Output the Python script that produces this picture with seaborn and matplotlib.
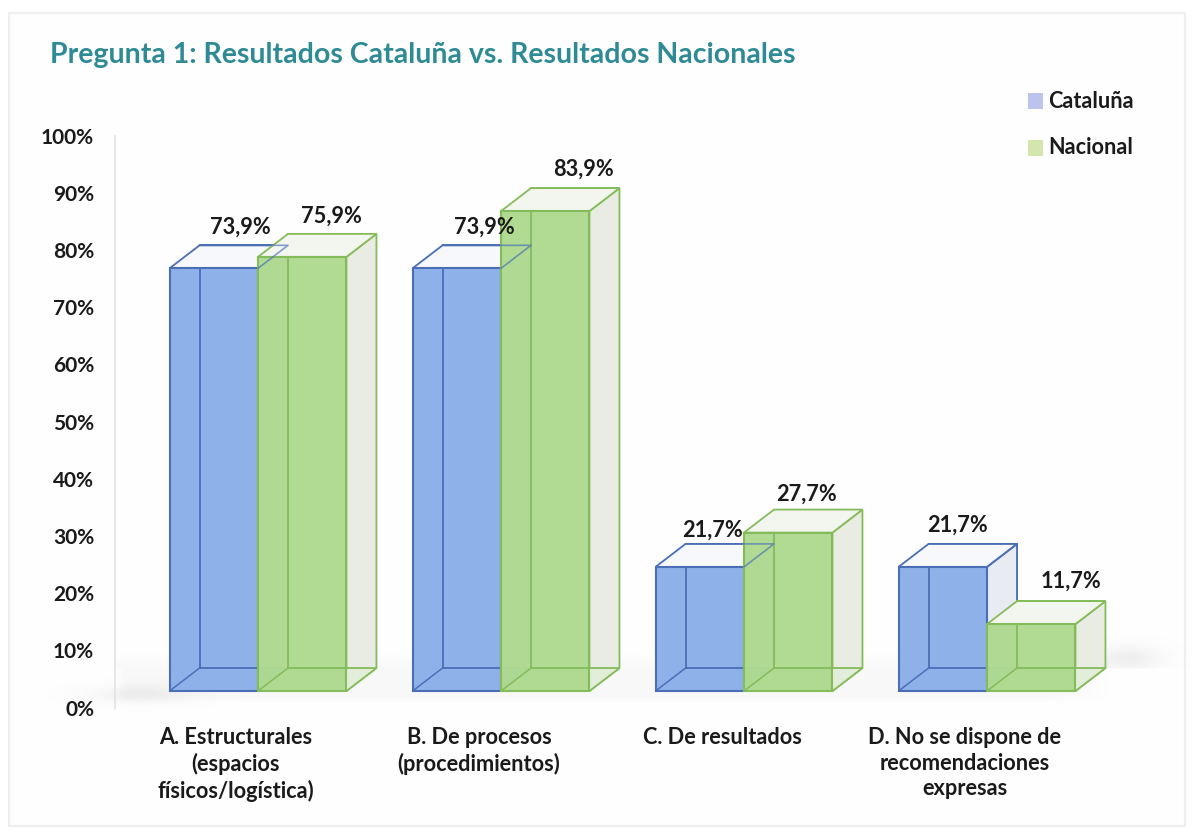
import numpy as np
import pandas as pd
import matplotlib
matplotlib.use("Agg")
import matplotlib.pyplot as plt
import matplotlib.patches as mp
from matplotlib.transforms import offset_copy, ScaledTranslation
import seaborn as sns

categories = ["A. Estructurales\n(espacios\nfísicos/logística)",
              "B. De procesos\n(procedimientos)",
              "C. De resultados",
              "D. No se dispone de\nrecomendaciones\nexpresas"]
cataluna = [73.9, 73.9, 21.7, 21.7]
nacional = [75.9, 83.9, 27.7, 11.7]
series_names = ["Cataluña", "Nacional"]
title = "Pregunta 1: Resultados Cataluña vs. Resultados Nacionales"

# label nudges from the bar centre / back top edge, in pixels
label_dx = [27, 28, 13, 15, 29, 38, 18, 40]
label_dy = [18, 18, 14, 19, 18, 19, 15, 20]

W, H = 1195, 836
BLUE_F, BLUE_E = "#8FB1E9", "#4A6FB8"
GREEN_F, GREEN_E = "#AFDA90", "#84BC5A"
FONT = "Lato"
TXT = "#1a1a1a"

sns.set_theme(style="white")
plt.rcParams["font.family"] = [FONT, "DejaVu Sans"]
fig = plt.figure(figsize=(W / 100, H / 100), dpi=100, facecolor="white")


def px_box(l, t, r, b):
    return [l / W, 1 - b / H, (r - l) / W, (b - t) / H]


# panel frame
bg = fig.add_axes([0, 0, 1, 1], zorder=0)
bg.set_xlim(0, W); bg.set_ylim(H, 0); bg.axis("off")
bg.add_patch(mp.Rectangle((9, 13), 1176, 813, fc="#FEFEFE", ec="#EFEFEF", lw=1.6))
# soft floor shadow
yy, xx = np.mgrid[0:H, 0:W].astype(float)
band = (yy >= 668) * np.clip((703 - yy) / 8, 0, 1) * np.clip((xx - 115) / 10, 0, 1) * np.clip((1110 - xx) / 60, 0, 1)
a = 0.08 * band
a += 0.16 * np.exp(-((xx - 140) / 50) ** 2 - ((yy - 694) / 9) ** 2)
a += 0.20 * np.exp(-((xx - 1128) / 32) ** 2 - ((yy - 658) / 13) ** 2) * np.clip((669 - yy) / 2, 0, 1)
a += 0.07 * np.exp(-((yy - 668) / 9) ** 2) * (yy < 668) * (xx > 115) * (xx < 1110)
img = np.zeros((H, W, 4)); img[..., :3] = 0.70; img[..., 3] = np.clip(a, 0, 1)
bg.imshow(img, extent=(0, W, H, 0), aspect="auto", interpolation="bilinear", zorder=1)
bg.set_xlim(0, W); bg.set_ylim(H, 0)

# chart axes: 0 % at y=707.5 and 100 % at y=135.5
ax = fig.add_axes(px_box(115, 135.5, 1150, 707.5), zorder=2)
ax.patch.set_alpha(0)
df = pd.DataFrame({
    "cat": categories * 2,
    "serie": [series_names[0]] * 4 + [series_names[1]] * 4,
    "valor": cataluna + nacional,
})
sns.barplot(data=df, x="cat", y="valor", hue="serie", palette=[BLUE_F, GREEN_F],
            width=0.728, gap=0, saturation=1, dodge=True, ax=ax, legend=False, zorder=5)

x0 = (115 - 258) / 243
x1 = (1150 - 258) / 243
ax.set_xlim(x0, x1)
ax.set_ylim(0, 100)

OFFSET = 2.88        # the 3-D floor lifts the bars over the zero line
DX, DY = 30 / 243, 23 / 5.72
bars = [p for p in ax.patches if p.get_height() > 0]
labels = [f"{v:.1f}%".replace(".", ",") for v in cataluna + nacional]
for i, (p, lab) in enumerate(zip(bars, labels)):
    blue = i < 4
    edge = BLUE_E if blue else GREEN_E
    z = 3 + (0 if blue else 3)
    p.set_y(OFFSET)
    p.set_edgecolor(edge); p.set_linewidth(1.5)
    p.set_zorder(z + 1.5)
    p.set_facecolor(BLUE_F if blue else matplotlib.colors.to_rgba(GREEN_F, 0.97))
    xl, xr = p.get_x(), p.get_x() + p.get_width()
    yb, yt = OFFSET, OFFSET + p.get_height()
    # back, side, top and floor faces follow each bar's own geometry
    back = mp.Rectangle((xl + DX, yb + DY), xr - xl, yt - yb, fc="#F6F7FA" if blue else "#F2F3EE",
                        ec=edge, lw=1.3, zorder=z)
    side = mp.Polygon([(xr, yb), (xr + DX, yb + DY), (xr + DX, yt + DY), (xr, yt)],
                      fc="#E8EBF2" if blue else "#E9ECE3", ec=edge, lw=1.3, zorder=z + 0.2)
    topf = mp.Polygon([(xl, yt), (xl + DX, yt + DY), (xr + DX, yt + DY), (xr, yt)],
                      fc="#F6F8FB" if blue else "#F3F5EF", ec=edge, lw=1.3, zorder=z + 0.3)
    floor = mp.Polygon([(xl, yb), (xl + DX, yb + DY), (xr + DX, yb + DY), (xr, yb)],
                       fc=BLUE_F if blue else "#E3EEDA", ec=edge, lw=1.3, zorder=z + 0.4)
    for f in (back, side, topf, floor):
        ax.add_patch(f)
    # the back edges show through the translucent front
    ax.plot([xl + DX, xl + DX], [yb + DY, yt], color=edge, lw=1.3, zorder=z + 2)
    ax.plot([xl + DX, xr], [yb + DY, yb + DY], color=edge, lw=1.3, zorder=z + 2)
    ax.plot([xl, xl + DX], [yb, yb + DY], color=edge, lw=1.1, zorder=z + 2)
    if blue:
        # the blue top frame shows through the neighbouring green box
        ax.plot([xr, xr + DX, xl + DX], [yt, yt + DY, yt + DY], color=edge, lw=1.2,
                alpha=0.65, zorder=12)
    tr = offset_copy(ax.transData, fig=fig, x=label_dx[i], y=label_dy[i], units="dots")
    ax.text((xl + xr) / 2, yt + DY, lab, ha="center", va="center", transform=tr,
            fontsize=15.7, fontweight="bold", color=TXT, zorder=20)

ax.set_yticks(np.arange(0, 101, 10))
ax.set_yticklabels([f"{v}%" for v in range(0, 101, 10)], fontsize=15, fontweight="bold", color=TXT)
ax.set_xticks(range(4))
ax.set_xticklabels(categories, fontsize=15.7, fontweight="bold", color=TXT,
                   linespacing=1.27, va="top", ma="center")
ax.tick_params(axis="y", length=0, pad=15)
ax.tick_params(axis="x", length=0, pad=14)
shift = ScaledTranslation(-22 / 100, 0, fig.dpi_scale_trans)
for t in ax.get_xticklabels():
    t.set_transform(t.get_transform() + shift)
ax.set_xlabel(""); ax.set_ylabel("")
sns.despine(ax=ax, top=True, right=True, bottom=True)
ax.spines["left"].set_color("#E2E2E2")
ax.spines["left"].set_linewidth(1.2)

# title and legend
fig.text(50 / W, 1 - 55 / H, title, color="#2E8B96", fontsize=20.5, fontweight="bold",
         ha="left", va="center")
for name, col, yc in zip(series_names, ["#BCC4EE", "#D3E6AE"], [101, 148]):
    bg.add_patch(mp.Rectangle((1028, yc - 8), 15, 16, fc=col, ec="none", zorder=3))
    bg.text(1048, yc, name, fontsize=15.6, fontweight="bold", color=TXT, va="center", ha="left", zorder=3)

fig.savefig("out.png", dpi=100)
